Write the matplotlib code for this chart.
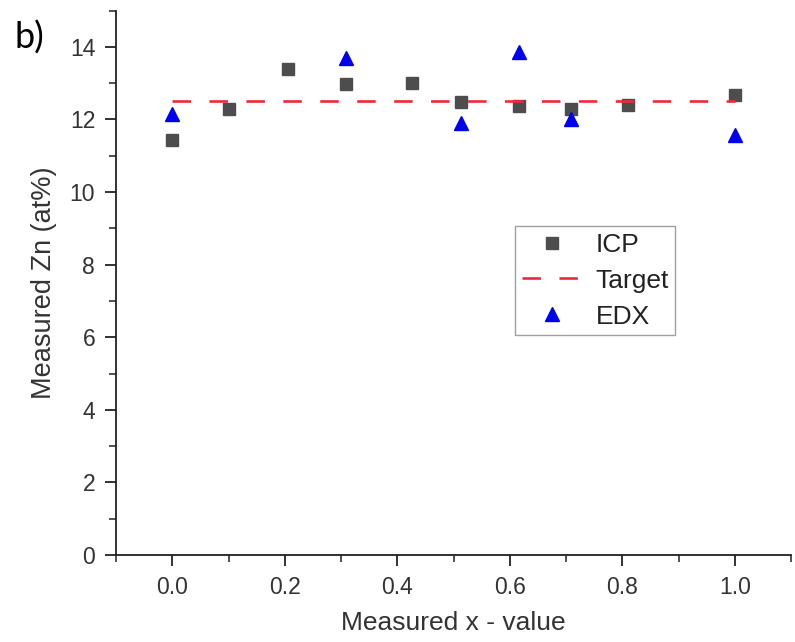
import matplotlib
matplotlib.use('Agg')
import matplotlib.pyplot as plt
from matplotlib.ticker import MultipleLocator

plt.rcParams['font.family'] = ['Liberation Sans', 'DejaVu Sans']

# ICP measurements
icp_x = [0.0, 0.10, 0.205, 0.308, 0.426, 0.513, 0.616, 0.708, 0.811, 1.0]
icp_zn = [11.43, 12.29, 13.38, 12.99, 13.0, 12.47, 12.38, 12.29, 12.40, 12.67]

# EDX measurements
edx_x = [0.0, 0.308, 0.513, 0.616, 0.708, 1.0]
edx_zn = [12.14, 13.70, 11.91, 13.85, 12.02, 11.57]

# target composition
target_x = [0.0, 1.0]
target_zn = [12.5, 12.5]

fig = plt.figure(figsize=(7.95, 6.42), dpi=100)
ax = fig.add_axes([0.146, 0.1355, 0.849, 0.848])

ax.plot(icp_x, icp_zn, ls='none', marker='s', ms=9, color='#4d4d4d', label='ICP')
ax.plot(target_x, target_zn, ls=(0, (7, 7)), lw=1.9, color='#f0283c', label='Target')
ax.plot(edx_x, edx_zn, ls='none', marker='^', ms=10.5, color='#0000ee', label='EDX')

ax.set_xlim(-0.1, 1.1)
ax.set_ylim(0, 15)
ax.xaxis.set_major_locator(MultipleLocator(0.2))
ax.xaxis.set_minor_locator(MultipleLocator(0.1))
ax.yaxis.set_major_locator(MultipleLocator(2))
ax.yaxis.set_minor_locator(MultipleLocator(1))
ax.set_xticks([0.0, 0.2, 0.4, 0.6, 0.8, 1.0])

for s in ['top', 'right']:
    ax.spines[s].set_visible(False)
for s in ['left', 'bottom']:
    ax.spines[s].set_linewidth(1.3)
    ax.spines[s].set_color('#222222')

ax.tick_params(which='major', length=8, width=1.3, colors='#222222', labelsize=16.5, pad=7)
ax.tick_params(which='minor', length=5, width=1.1, colors='#222222')
for lbl in ax.get_xticklabels() + ax.get_yticklabels():
    lbl.set_color('#333333')

ax.set_xlabel('Measured x - value', fontsize=19, color='#333333', labelpad=9)
ax.set_ylabel('Measured Zn (at%)', fontsize=19.5, color='#333333', labelpad=9)

leg = ax.legend(loc='upper left', bbox_to_anchor=(0.591, 0.604), fontsize=19,
                frameon=True, fancybox=False, edgecolor='#888888',
                handlelength=2.3, handletextpad=0.5, labelspacing=0.45,
                borderpad=0.25, borderaxespad=0)
leg.get_frame().set_linewidth(1.0)
for t in leg.get_texts():
    t.set_color('#222222')

fig.text(0.018, 0.925, 'b)', fontsize=26, family=['Lato', 'DejaVu Sans'], color='black')

fig.savefig('out.png', dpi=100)
